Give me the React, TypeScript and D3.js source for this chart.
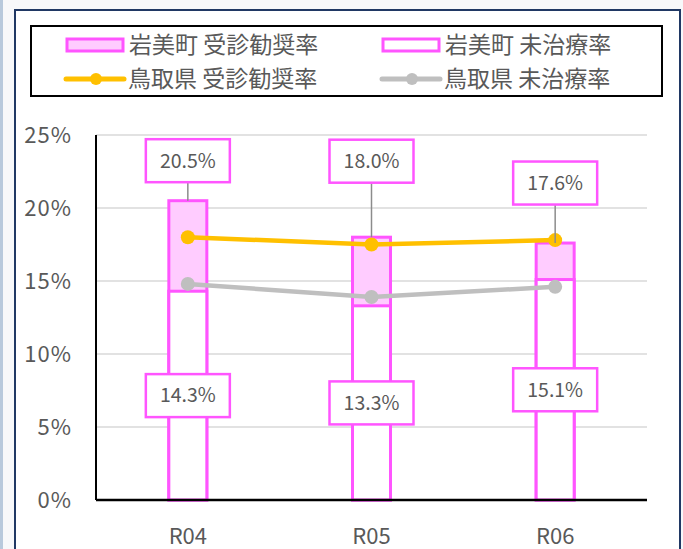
import React, { useEffect, useRef } from 'react';
import * as d3 from 'd3';

const categories = ['R04', 'R05', 'R06'];
const iwamiRecommend = [20.5, 18.0, 17.6];
const iwamiUntreated = [14.3, 13.3, 15.1];
const tottoriRecommend = [18.0, 17.5, 17.8];
const tottoriUntreated = [14.8, 13.9, 14.6];
const yTicks = [0, 5, 10, 15, 20, 25];

// how far (px) the top labels sit above their bar, as placed by hand in the original
const topLabelLift = [40, 76, 60];

const PINK = '#ff55ff';
const PINK_FILL = '#ffccff';
const ORANGE = '#ffc000';
const GRAY = '#bfbfbf';
const TEXT = '#595959';
const FONT = '"Noto Sans CJK JP", "Noto Sans", sans-serif';

const App: React.FC = () => {
  const svgRef = useRef<SVGSVGElement>(null);

  useEffect(() => {
    if (!svgRef.current) return;
    const W = 683;
    const H = 549;
    const svg = d3.select(svgRef.current).attr('width', W).attr('height', H);
    svg.selectAll('*').remove();

    // background + frame
    svg.append('rect').attr('width', W).attr('height', H).attr('fill', '#f7f8fa');
    svg.append('line').attr('x1', 1.5).attr('x2', 1.5).attr('y1', 0).attr('y2', H)
      .attr('stroke', '#b8c9dc').attr('stroke-width', 3);
    svg.append('rect').attr('x', 15).attr('y', 10).attr('width', 665).attr('height', H)
      .attr('fill', '#ffffff').attr('stroke', '#203864').attr('stroke-width', 2);

    const left = 96;
    const right = 647;
    const top = 135;
    const bottom = 500;

    const x = d3.scaleBand().domain(categories).range([left, right]).paddingInner(0).paddingOuter(0);
    const y = d3.scaleLinear().domain([0, 25]).range([bottom, top]);
    const barW = 38;
    const cx = (c: string) => (x(c) as number) + x.bandwidth() / 2;

    // gridlines
    svg.append('g').selectAll('line').data(yTicks.filter(t => t > 0)).enter().append('line')
      .attr('x1', left).attr('x2', right)
      .attr('y1', d => y(d)).attr('y2', d => y(d))
      .attr('stroke', '#d9d9d9').attr('stroke-width', 1.5);

    // y tick labels
    svg.append('g').selectAll('text').data(yTicks).enter().append('text')
      .attr('x', 72).attr('y', d => y(d)).attr('dy', '0.35em')
      .attr('text-anchor', 'end').attr('fill', TEXT)
      .style('font-family', FONT).style('font-size', '22px').style('letter-spacing', '1px')
      .text(d => `${d}%`);

    // x labels
    svg.append('g').selectAll('text').data(categories).enter().append('text')
      .attr('x', d => cx(d)).attr('y', 536).attr('dy', '0.35em')
      .attr('text-anchor', 'middle').attr('fill', TEXT)
      .style('font-family', FONT).style('font-size', '22px')
      .text(d => d);

    // bars: recommend (behind, pink) then untreated (front, white)
    const bars = svg.append('g');
    categories.forEach((c, i) => {
      bars.append('rect')
        .attr('x', cx(c) - barW / 2).attr('y', y(iwamiRecommend[i]))
        .attr('width', barW).attr('height', y(0) - y(iwamiRecommend[i]))
        .attr('fill', PINK_FILL).attr('stroke', PINK).attr('stroke-width', 3);
      bars.append('rect')
        .attr('x', cx(c) - barW / 2).attr('y', y(iwamiUntreated[i]))
        .attr('width', barW).attr('height', y(0) - y(iwamiUntreated[i]))
        .attr('fill', '#ffffff').attr('stroke', PINK).attr('stroke-width', 3);
    });

    // axes
    svg.append('line').attr('x1', left).attr('x2', left).attr('y1', top).attr('y2', bottom)
      .attr('stroke', '#000').attr('stroke-width', 2);
    svg.append('line').attr('x1', left).attr('x2', right).attr('y1', bottom).attr('y2', bottom)
      .attr('stroke', '#000').attr('stroke-width', 2.5);

    // lines
    const line = d3.line<number>().x((_, i) => cx(categories[i])).y(d => y(d));
    const series = [
      { values: tottoriUntreated, color: GRAY },
      { values: tottoriRecommend, color: ORANGE },
    ];
    series.forEach(s => {
      svg.append('path').attr('d', line(s.values) as string)
        .attr('fill', 'none').attr('stroke', s.color).attr('stroke-width', 4.5)
        .attr('stroke-linejoin', 'round');
      svg.append('g').selectAll('circle').data(s.values).enter().append('circle')
        .attr('cx', (_, i) => cx(categories[i])).attr('cy', d => y(d)).attr('r', 7)
        .attr('fill', s.color);
    });

    // data labels
    const boxW = 84;
    const boxH = 43;
    const labelBox = (px: number, py: number, txt: string) => {
      svg.append('rect').attr('x', px - boxW / 2).attr('y', py - boxH / 2)
        .attr('width', boxW).attr('height', boxH)
        .attr('fill', '#ffffff').attr('stroke', PINK).attr('stroke-width', 2.5);
      svg.append('text').attr('x', px).attr('y', py).attr('dy', '0.35em')
        .attr('text-anchor', 'middle').attr('fill', TEXT)
        .style('font-family', FONT).style('font-size', '19.5px')
        .text(txt);
    };
    categories.forEach((c, i) => {
      const barTop = y(iwamiRecommend[i]);
      const ly = barTop - topLabelLift[i];
      svg.append('line').attr('x1', cx(c)).attr('x2', cx(c))
        .attr('y1', ly + boxH / 2).attr('y2', barTop)
        .attr('stroke', '#8c8c8c').attr('stroke-width', 1.5);
      labelBox(cx(c), ly, `${iwamiRecommend[i].toFixed(1)}%`);
      labelBox(cx(c), y(iwamiUntreated[i] / 2), `${iwamiUntreated[i].toFixed(1)}%`);
    });

    // legend
    const lg = svg.append('g');
    lg.append('rect').attr('x', 31).attr('y', 26).attr('width', 631).attr('height', 70)
      .attr('fill', '#ffffff').attr('stroke', '#000').attr('stroke-width', 2);
    const legendItems = [
      { label: '岩美町 受診勧奨率', kind: 'box', fill: PINK_FILL, color: PINK, sx: 67, ty: 45 },
      { label: '岩美町 未治療率', kind: 'box', fill: '#ffffff', color: PINK, sx: 383, ty: 45 },
      { label: '鳥取県 受診勧奨率', kind: 'line', fill: 'none', color: ORANGE, sx: 66, ty: 79 },
      { label: '鳥取県 未治療率', kind: 'line', fill: 'none', color: GRAY, sx: 382, ty: 79 },
    ];
    legendItems.forEach(it => {
      if (it.kind === 'box') {
        lg.append('rect').attr('x', it.sx).attr('y', it.ty - 6).attr('width', 56).attr('height', 12)
          .attr('fill', it.fill).attr('stroke', it.color).attr('stroke-width', 3);
      } else {
        lg.append('line').attr('x1', it.sx).attr('x2', it.sx + 58).attr('y1', it.ty).attr('y2', it.ty)
          .attr('stroke', it.color).attr('stroke-width', 5).attr('stroke-linecap', 'round');
        lg.append('circle').attr('cx', it.sx + 30).attr('cy', it.ty).attr('r', 6).attr('fill', it.color);
      }
      lg.append('text').attr('x', it.sx + 62).attr('y', it.ty).attr('dy', '0.36em')
        .attr('fill', TEXT).style('font-family', FONT).style('font-size', '23px')
        .text(it.label);
    });
  }, []);

  return (
    <div style={{ position: 'absolute', left: 0, top: 0 }}>
      <svg ref={svgRef} style={{ display: 'block' }} />
    </div>
  );
};

export default App;
